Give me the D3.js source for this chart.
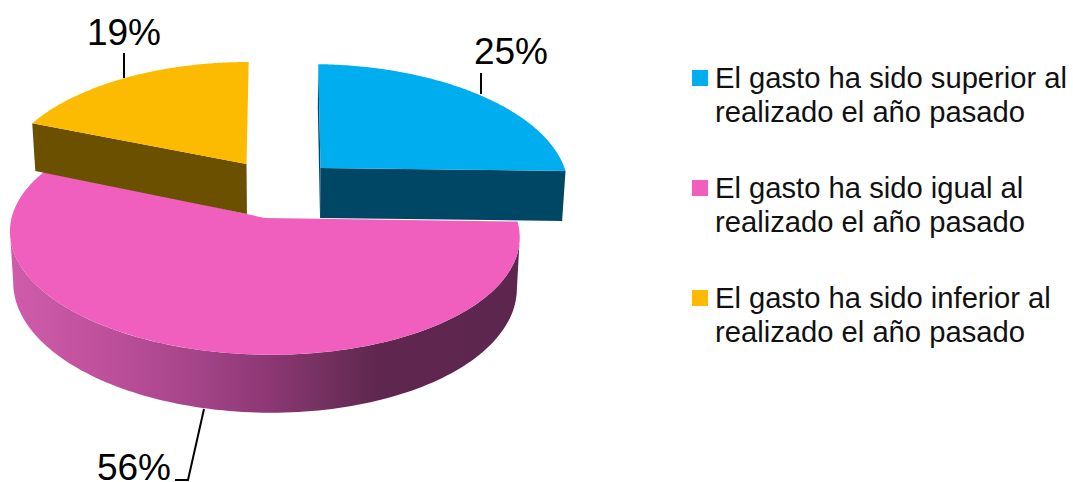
<!doctype html>
<meta charset=utf8>
<title>Gasto</title>
<style>
  html, body { margin: 0; background: white; }
  svg { display: block; }
  text { font-family: 'Liberation Sans', Helvetica, Arial, sans-serif; fill: #111; }
  .pct { font-size: 37px; fill: #000; }
  .legend text { font-size: 29.2px; }
  .leader { fill: none; stroke: black; stroke-width: 2; }
</style>
<svg width=1073 height=482></svg>
<script src=https://d3js.org/d3.v7.min.js></script>
<script>
  var categories = [
    ['El gasto ha sido superior al', 'realizado el año pasado'],
    ['El gasto ha sido igual al', 'realizado el año pasado'],
    ['El gasto ha sido inferior al', 'realizado el año pasado']
  ];
  var shares = [25, 56, 19];
  var topColors = ['#00aeef', '#f05fbe', '#fcbb00'];
  var sideColors = ['#004766', '#8a3672', '#6b5000'];

  // where each exploded slice sits on screen (apex, radii, slight roll)
  var placed = [
    {cx: 320.5, cy: 168, a: 245, b: 118, roll: 0.012},
    {cx: 265, cy: 218, a: 252.5, b: 118, roll: 0.014},
    {cx: 246.5, cy: 164, a: 243, b: 116, roll: 0}
  ];
  var labelSpots = [
    {x: 511, y: 64, line: [[481, 73], [481, 94]]},
    {x: 134, y: 480, line: [[204, 409], [188, 480], [175, 480]]},
    {x: 124, y: 45, line: [[124, 53], [124, 78]]}
  ];

  var depth = 50;      // extrusion height
  var tilt = 0.137;    // perspective strength front to back
  var vanishX = 283;
  var tuck = 0.03;     // pink runs a little under the yellow wall, no white seam

  var svg = d3.select('svg');
  var pie = d3.pie().sort(null).value(function(d) { return d; });
  var slices = pie(shares);
  var line = d3.line();

  // disc point at clockwise angle t (radius r, z = 0 top, 1 bottom) to screen
  function project(p, t, r, z) {
    var u = r * Math.sin(t);
    var v = r * Math.cos(t);
    var s = 1 / (1 + tilt * v);
    var x = p.cx + p.a * u * s + (p.cx - vanishX) * (s - 1) * 0.5;
    var y = p.cy - p.b * v * s + depth * z * s + (x - p.cx) * p.roll;
    x -= (x - vanishX) * 0.012 * z;
    return [x, y];
  }

  function rim(p, start, end, z) {
    var n = 120;
    return d3.range(n + 1).map(function(i) {
      return project(p, start + (end - start) * i / n, 1, z);
    });
  }

  // side gradient along the pink wall
  var grad = svg.append('defs').append('linearGradient')
    .attr('id', 'wall')
    .attr('gradientUnits', 'userSpaceOnUse')
    .attr('x1', 10).attr('x2', 520).attr('y1', 0).attr('y2', 0);
  [[0, '#cf5cab'], [0.2, '#bd4f9a'], [0.38, '#a24387'], [0.5, '#8e3875'], [0.62, '#73305f'], [0.72, '#5f2750'], [1, '#5d264e']]
    .forEach(function(s) {
      grad.append('stop').attr('offset', s[0]).attr('stop-color', s[1]);
    });

  function radialWall(p, t) {
    return [project(p, 0, 0, 0), project(p, t, 1, 0), project(p, t, 1, 1), project(p, 0, 0, 1)];
  }

  // the round wall only shows between the two widest points of the ellipse
  var wide = Math.acos(-tilt);

  // pink first, the other two sit over its back edge
  [1, 0, 2].forEach(function(i) {
    var d = slices[i];
    var p = placed[i];
    var end = i === 1 ? d.endAngle + tuck : d.endAngle;
    var g = svg.append('g');
    if (i === 1) {
      var w0 = wide;
      var w1 = 2 * Math.PI - wide;
      g.append('path')
        .attr('d', line(rim(p, w0, w1, 0).concat(rim(p, w0, w1, 1).reverse())) + 'Z')
        .attr('fill', 'url(#wall)');
    } else {
      g.append('path')
        .attr('d', line(radialWall(p, i === 0 ? d.endAngle : d.startAngle)) + 'Z')
        .attr('fill', sideColors[i]);
      if (i === 0) {
        g.append('path')
          .attr('d', line(radialWall(p, d.startAngle)) + 'Z')
          .attr('fill', sideColors[i]);
      }
    }
    g.append('path')
      .attr('d', line([project(p, 0, 0, 0)].concat(rim(p, d.startAngle, end, 0))) + 'Z')
      .attr('fill', topColors[i]);
  });

  labelSpots.forEach(function(s, i) {
    svg.append('path').attr('class', 'leader').attr('d', line(s.line));
    svg.append('text')
      .attr('class', 'pct')
      .attr('x', s.x)
      .attr('y', s.y)
      .attr('text-anchor', 'middle')
      .text(shares[i] + '%');
  });

  var legendY = d3.scalePoint().domain(d3.range(categories.length)).range([88, 308]);
  var legend = svg.append('g').attr('class', 'legend');
  categories.forEach(function(lines, i) {
    legend.append('rect')
      .attr('x', 692)
      .attr('y', legendY(i) - 18)
      .attr('width', 16)
      .attr('height', 16)
      .attr('fill', topColors[i]);
    lines.forEach(function(t, j) {
      legend.append('text')
        .attr('x', 715)
        .attr('y', legendY(i) + j * 34)
        .text(t);
    });
  });
</script>
